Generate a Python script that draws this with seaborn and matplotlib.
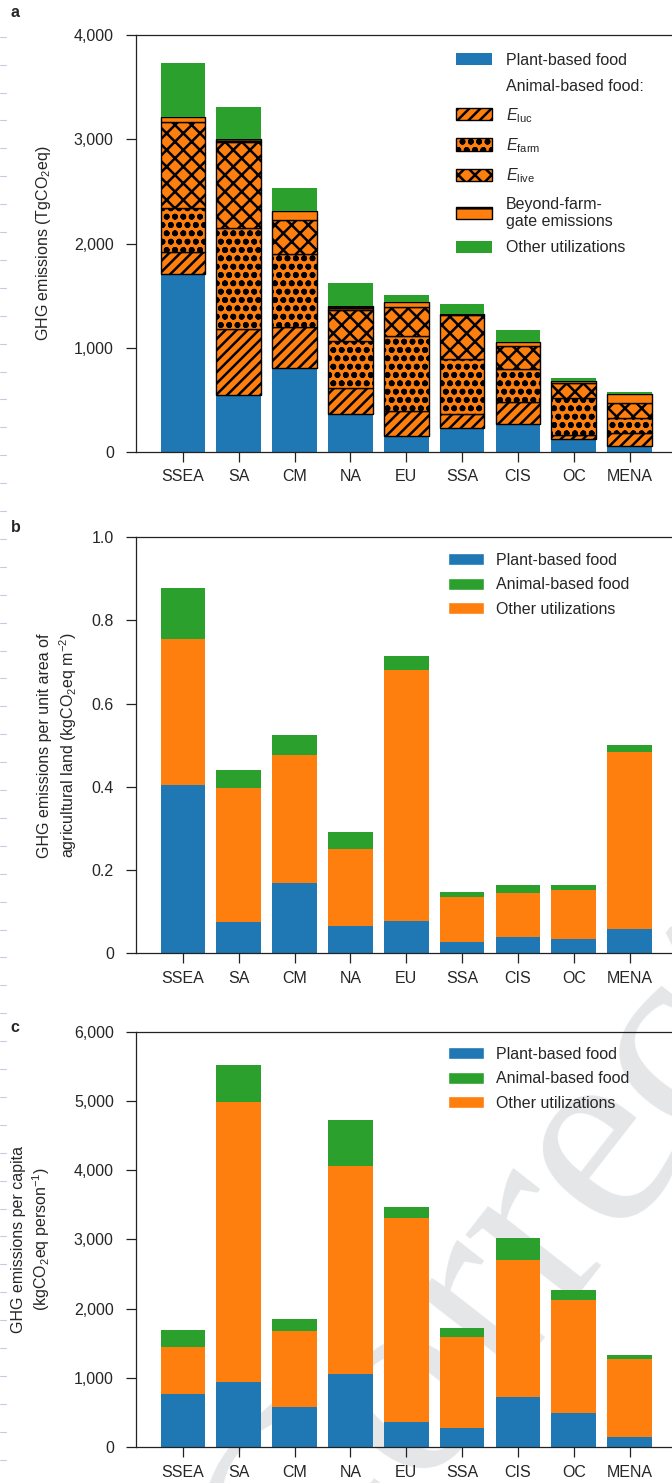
import numpy as np
import seaborn as sns
import matplotlib.pyplot as plt
from matplotlib.patches import Patch
from matplotlib.lines import Line2D
from matplotlib.ticker import FuncFormatter

regions = ['SSEA', 'SA', 'CM', 'NA', 'EU', 'SSA', 'CIS', 'OC', 'MENA']

# panel a: total emissions (TgCO2eq), bottom to top
a_plant = [1707, 547, 809, 361, 153, 227, 272, 125, 61]
a_luc = [208, 630, 393, 250, 240, 138, 211, 38, 124]
a_farm = [422, 968, 697, 457, 720, 524, 315, 352, 138]
a_live = [832, 832, 326, 294, 281, 425, 219, 144, 144]
a_beyond = [44, 25, 90, 42, 42, 10, 35, 19, 86]
a_other = [515, 304, 221, 220, 70, 96, 118, 29, 20]

# panel b: per unit area of agricultural land (kgCO2eq m-2)
b_plant = [0.405, 0.076, 0.170, 0.066, 0.078, 0.026, 0.040, 0.035, 0.059]
b_other = [0.351, 0.322, 0.307, 0.185, 0.603, 0.110, 0.106, 0.118, 0.426]
b_animal = [0.121, 0.043, 0.048, 0.041, 0.034, 0.011, 0.018, 0.011, 0.016]

# panel c: per capita (kgCO2eq person-1)
c_plant = [769, 947, 587, 1063, 366, 284, 731, 500, 154]
c_other = [679, 4043, 1097, 3003, 2949, 1313, 1978, 1627, 1121]
c_animal = [245, 529, 168, 660, 154, 125, 313, 144, 58]

sns.set_theme(style='ticks')
plt.rcParams['font.family'] = ['Liberation Sans', 'DejaVu Sans']
plt.rcParams['mathtext.fontset'] = 'custom'
plt.rcParams['mathtext.rm'] = 'Liberation Sans'
plt.rcParams['mathtext.it'] = 'Liberation Sans:italic'
plt.rcParams['hatch.linewidth'] = 1.8
plt.rcParams['axes.linewidth'] = 0.9

pal = sns.color_palette('tab10')
blue, orange, green = pal[0], pal[1], pal[2]
fs = 11.5
H_LUC, H_FARM, H_LIVE, H_BEY = '///', 'oo', 'xx', '-'


def stack(ax, parts):
    bottom = np.zeros(len(regions))
    for vals, col, hatch in parts:
        vals = np.asarray(vals, dtype=float)
        if hatch is None:
            sns.barplot(x=regions, y=vals, color=col, saturation=1, width=0.8,
                        bottom=bottom, edgecolor='none', linewidth=0,
                        errorbar=None, ax=ax)
        else:
            sns.barplot(x=regions, y=vals, color=col, saturation=1, width=0.8,
                        bottom=bottom, edgecolor='black', linewidth=1.0,
                        hatch=hatch, errorbar=None, ax=ax)
        bottom += vals


def style(ax, ymax):
    ax.patch.set_alpha(0)
    ax.set_ylim(0, ymax)
    ax.set_xlim(-0.84, 8.76)
    ax.spines['right'].set_visible(False)
    for s in ['left', 'bottom', 'top']:
        ax.spines[s].set_color('#222222')
    ax.tick_params(axis='x', length=7, width=0.9, pad=5.5, color='#222222')
    ax.tick_params(axis='y', length=7, width=0.9, pad=9, color='#222222')
    ax.set_xticks(range(len(regions)), regions, fontsize=fs)
    ax.set_xlabel('')


def simple_legend(ax, top):
    hs = [Patch(facecolor=blue, label='Plant-based food'),
          Patch(facecolor=green, label='Animal-based food'),
          Patch(facecolor=orange, label='Other utilizations')]
    ax.legend(handles=hs, loc='upper left', bbox_to_anchor=(0.582, top),
              frameon=False, fontsize=fs, borderpad=0, borderaxespad=0,
              handlelength=2.25, handleheight=0.8, handletextpad=0.75,
              labelspacing=0.6)


fig = plt.figure(figsize=(6.72, 14.83), dpi=100)

# faint page watermark and line-number marks behind the panels
fig.text(0.4539, -0.0991, 'Corrected', fontsize=197, family='Liberation Serif',
         color='#e5e6e8', rotation=52, rotation_mode='anchor', ha='left',
         va='baseline', zorder=-5)
for k in range(52):
    yk = 1 - (36.7 + 27.9 * k) / 1483
    fig.add_artist(Line2D([0, 0.009], [yk, yk], color='#c9c9e2', lw=0.8, zorder=-4))

# ---- a
ax = fig.add_axes([0.2024, 0.6952, 0.7976, 0.2812])
stack(ax, [(a_plant, blue, None), (a_luc, orange, H_LUC), (a_farm, orange, H_FARM),
           (a_live, orange, H_LIVE), (a_beyond, orange, H_BEY), (a_other, green, None)])
style(ax, 4000)
ax.set_yticks([0, 1000, 2000, 3000, 4000])
ax.yaxis.set_major_formatter(FuncFormatter(lambda v, p: f'{v:,.0f}'))
ax.tick_params(axis='y', labelsize=fs)
ax.set_ylabel('GHG emissions (TgCO$_2$eq)', fontsize=fs, va='center')
ax.yaxis.set_label_coords(-0.1735, 0.5)
handles = [
    Patch(facecolor=blue, edgecolor='none', label='Plant-based food'),
    Patch(facecolor='none', edgecolor='none', label='Animal-based food:'),
    Patch(facecolor=orange, edgecolor='black', hatch=H_LUC, label=r'$E_{\mathrm{luc}}$'),
    Patch(facecolor=orange, edgecolor='black', hatch=H_FARM, label=r'$E_{\mathrm{farm}}$'),
    Patch(facecolor=orange, edgecolor='black', hatch=H_LIVE, label=r'$E_{\mathrm{live}}$'),
    Patch(facecolor=orange, edgecolor='black', hatch=H_BEY, label='Beyond-farm-\ngate emissions'),
    Patch(facecolor=green, edgecolor='none', label='Other utilizations'),
]
ax.legend(handles=handles, loc='upper left', bbox_to_anchor=(0.597, 0.957),
          frameon=False, fontsize=fs, borderpad=0, borderaxespad=0,
          handlelength=2.25, handleheight=0.8, handletextpad=0.85,
          labelspacing=0.72)

# ---- b
ax = fig.add_axes([0.2024, 0.3572, 0.7976, 0.2805])
stack(ax, [(b_plant, blue, None), (b_other, orange, None), (b_animal, green, None)])
style(ax, 1.0)
ax.set_yticks([0, 0.2, 0.4, 0.6, 0.8, 1.0], ['0', '0.2', '0.4', '0.6', '0.8', '1.0'],
              fontsize=fs)
ax.set_ylabel('GHG emissions per unit area of\nagricultural land (kgCO$_2$eq m$^{-2}$)',
              fontsize=fs, va='center', linespacing=1.3)
ax.yaxis.set_label_coords(-0.1455, 0.5)
simple_legend(ax, 0.963)

# ---- c
ax = fig.add_axes([0.2024, 0.0241, 0.7976, 0.2802])
stack(ax, [(c_plant, blue, None), (c_other, orange, None), (c_animal, green, None)])
style(ax, 6000)
yt = [0, 1000, 2000, 3000, 4000, 5000, 6000]
ax.set_yticks(yt, [f'{v:,}' for v in yt], fontsize=fs)
ax.set_ylabel('GHG emissions per capita\n(kgCO$_2$eq person$^{-1}$)',
              fontsize=fs, va='center', linespacing=1.3)
ax.yaxis.set_label_coords(-0.195, 0.5)
simple_legend(ax, 0.964)

for letter, y in [('a', 0.9965), ('b', 0.6495), ('c', 0.3125)]:
    fig.text(0.016, y, letter, fontsize=11.5, fontweight='bold', va='top', ha='left')

fig.savefig('out.png', dpi=100)
